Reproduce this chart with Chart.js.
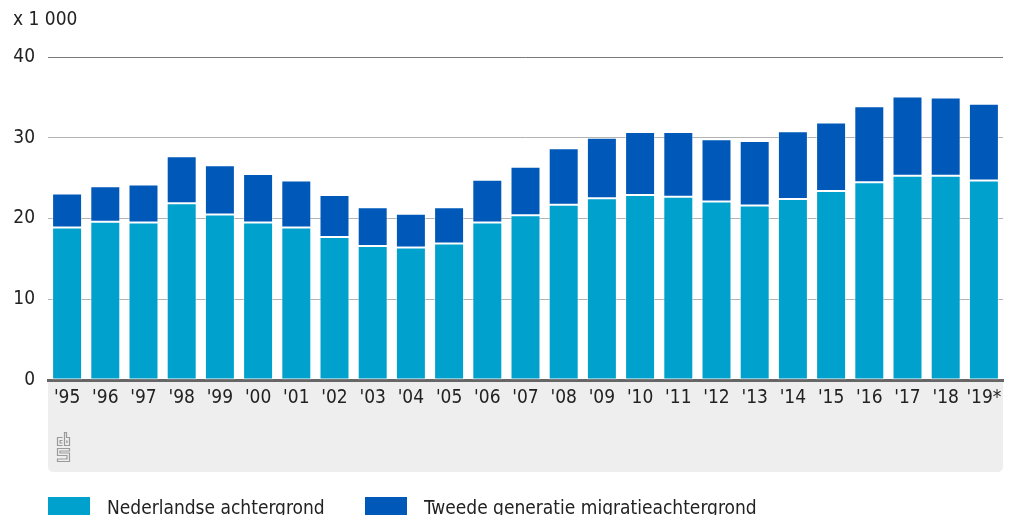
<!DOCTYPE html>
<html>
<head>
<meta charset="utf-8">
<script src="https://cdn.jsdelivr.net/npm/chart.js@4.4.1/dist/chart.umd.min.js"></script>
<style>
body{margin:0;background:#fff;}
#wrap{position:relative;width:1010px;height:515px;overflow:hidden;}
#legend{position:absolute;left:48px;top:496px;font-family:"Liberation Sans Narrow","DejaVu Sans Condensed",sans-serif;font-size:19px;color:#222;white-space:nowrap;}
.item{position:absolute;top:0;height:20px;line-height:20px;}
.box{position:absolute;left:0;top:1px;width:42px;height:18px;}
.lbl{position:absolute;top:1px;}
</style>
</head>
<body>
<div id="wrap">
<canvas id="chart" width="1010" height="515"></canvas>
<div id="legend"></div>
</div>
<script>
var years = ["'95","'96","'97","'98","'99","'00","'01","'02","'03","'04","'05","'06","'07","'08","'09","'10","'11","'12","'13","'14","'15","'16","'17","'18","'19*"];
// x 1 000
var nederlands = [18.9,19.6,19.5,21.9,20.5,19.5,18.9,17.7,16.6,16.4,16.9,19.5,20.4,21.7,22.5,22.9,22.7,22.1,21.6,22.4,23.4,24.5,25.3,25.3,24.7];
var tweedeGen  = [4.2,4.4,4.7,5.8,6.1,6.0,5.8,5.2,4.8,4.2,4.5,5.3,6.0,7.0,7.5,7.8,8.0,7.7,8.0,8.4,8.5,9.4,9.8,9.7,9.5];
var seriesNames = ["Nederlandse achtergrond","Tweede generatie migratieachtergrond"];
var seriesColors = ["#00a1cd","#0058b8"];
var yTicks = [0,10,20,30,40];

var FONT = '"Liberation Sans Narrow","DejaVu Sans Condensed",sans-serif';

// grijze band onder de as + unit label + logo
var bgPlugin = {
    id: "bgband",
    beforeDraw: function(chart){
        var c = chart.ctx, a = chart.chartArea;
        c.save();
        c.fillStyle = "#eeeeee";
        var x = a.left, y = a.bottom, w = a.right - a.left, h = 92, r = 6;
        c.beginPath();
        c.moveTo(x, y);
        c.lineTo(x + w, y);
        c.lineTo(x + w, y + h - r);
        c.quadraticCurveTo(x + w, y + h, x + w - r, y + h);
        c.lineTo(x + r, y + h);
        c.quadraticCurveTo(x, y + h, x, y + h - r);
        c.closePath();
        c.fill();
        c.restore();
    },
    afterDraw: function(chart){
        var c = chart.ctx;
        c.save();
        c.fillStyle = "#222";
        c.font = "19px " + FONT;
        c.textBaseline = "middle";
        c.fillText("x 1 000", 13, 20);
        // cbs logo (simpel)
        c.strokeStyle = "#9a9a9a";
        c.lineWidth = 1.2;
        var lx = 57.5, ly = 432.5;
        c.beginPath();
        // c
        c.moveTo(lx + 5, ly + 5); c.lineTo(lx, ly + 5); c.lineTo(lx, ly + 13); c.lineTo(lx + 5, ly + 13);
        c.moveTo(lx + 5, ly + 8); c.lineTo(lx + 2.5, ly + 8); c.lineTo(lx + 2.5, ly + 10.5); c.lineTo(lx + 5, ly + 10.5);
        // b
        c.moveTo(lx + 7, ly); c.lineTo(lx + 7, ly + 13); c.lineTo(lx + 12, ly + 13); c.lineTo(lx + 12, ly + 5); c.lineTo(lx + 9, ly + 5); c.lineTo(lx + 9, ly);
        c.closePath();
        c.moveTo(lx + 9, ly + 8); c.lineTo(lx + 9.5, ly + 10.5); c.lineTo(lx + 9.5, ly + 8);
        // s
        c.moveTo(lx + 12, ly + 16); c.lineTo(lx, ly + 16); c.lineTo(lx, ly + 23); c.lineTo(lx + 9.5, ly + 23); c.lineTo(lx + 9.5, ly + 26.5); c.lineTo(lx, ly + 26.5); c.lineTo(lx, ly + 29); c.lineTo(lx + 12, ly + 29); c.lineTo(lx + 12, ly + 20.5); c.lineTo(lx + 2.5, ly + 20.5); c.lineTo(lx + 2.5, ly + 18.5); c.lineTo(lx + 12, ly + 18.5); c.closePath();
        c.stroke();
        c.restore();
    }
};

$legend = document.getElementById("legend");
var offsets = [0, 317];
for (var i = 0; i < seriesNames.length; i++) {
    $legend.innerHTML += '<div class="item" style="left:' + offsets[i] + 'px"><div class="box" style="background:' + seriesColors[i] + '"></div><div class="lbl" style="left:59px">' + seriesNames[i] + '</div></div>';
}

var ctx_chart = document.getElementById("chart").getContext("2d");
var chart = new Chart(ctx_chart, {
    type: "bar",
    data: {
        labels: years,
        datasets: [{
            label: seriesNames[0],
            data: nederlands,
            backgroundColor: seriesColors[0],
            borderColor: "rgba(255,255,255,0.55)",
            borderWidth: 1,
            borderSkipped: false
        }, {
            label: seriesNames[1],
            data: tweedeGen,
            backgroundColor: seriesColors[1],
            borderColor: "rgba(255,255,255,0.45)",
            borderWidth: 1,
            borderSkipped: false
        }]
    },
    options: {
        responsive: false,
        animation: false,
        layout: { padding: { top: 57, right: 7, left: 0, bottom: 0 } },
        datasets: { bar: { categoryPercentage: 1, barPercentage: 0.785 } },
        plugins: {
            legend: { display: false },
            tooltip: { enabled: false }
        },
        scales: {
            x: {
                stacked: true,
                grid: { display: false, drawTicks: false },
                border: { display: true, color: "#666", width: 3 },
                ticks: {
                    color: "#222",
                    font: { family: FONT, size: 19 },
                    padding: 7,
                    maxRotation: 0,
                    autoSkip: false
                },
                afterFit: function(scale){ scale.height = 135; }
            },
            y: {
                stacked: true,
                min: 0,
                max: 40,
                afterBuildTicks: function(scale){
                    scale.ticks = yTicks.map(function(v){ return { value: v }; });
                },
                grid: {
                    drawTicks: false,
                    color: function(ctx){
                        if (ctx.tick.value == 40) return "#7a7a7a";
                        if (ctx.tick.value == 0) return "rgba(0,0,0,0)";
                        return "#b3b3b3";
                    },
                    lineWidth: 1
                },
                border: { display: false },
                ticks: {
                    color: "#222",
                    font: { family: FONT, size: 19 },
                    padding: 13
                },
                afterFit: function(scale){ scale.width = 48; }
            }
        }
    },
    plugins: [bgPlugin]
});
</script>
</body>
</html>
